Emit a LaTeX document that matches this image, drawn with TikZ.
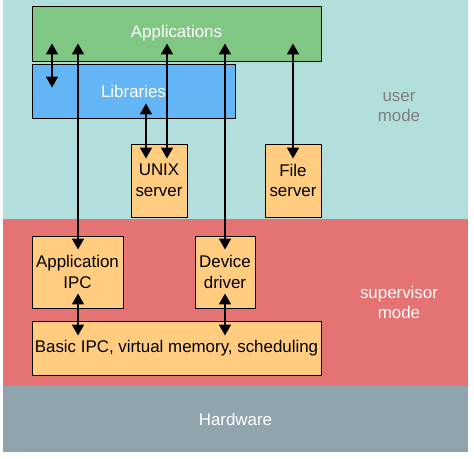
\documentclass[tikz,border=0pt]{standalone}
\usepackage{fontspec}
\setmainfont{Liberation Sans}
\usetikzlibrary{arrows.meta,calc}
\definecolor{userbg}{HTML}{B2DFDB}
\definecolor{supbg}{HTML}{E57373}
\definecolor{hwbg}{HTML}{90A4AE}
\definecolor{appg}{HTML}{81C784}
\definecolor{libb}{HTML}{64B5F6}
\definecolor{boxo}{HTML}{FFCC80}
\definecolor{usertxt}{HTML}{7F7F7F}
\begin{document}
\begin{tikzpicture}[x=1pt,y=-1pt,
  font=\fontsize{16.9}{20.5}\selectfont,
  box/.style={draw=black,line width=0.9pt,inner sep=0pt,align=center},
  obox/.style={box,fill=boxo,text=black},
  arr/.style={{Triangle[length=11pt,width=12pt]}-{Triangle[length=11pt,width=12pt]},line width=1.8pt}]
\useasboundingbox (0,0) rectangle (474,458);
% bands
\fill[userbg] (3,0) rectangle (468,219);
\fill[supbg] (3,219) rectangle (468,386);
\fill[hwbg] (3,386) rectangle (468,452);
\node[text=usertxt,align=center] (umode) at (399,107) {user\\mode};
\node[text=white,align=center] (smode) at (399,302.5) {supervisor\\mode};
\node[text=white] (hw) at (235.5,419) {Hardware};
% boxes
\node[box,fill=appg,text=white,minimum width=289pt,minimum height=55pt] (apps) at (176.5,33.5) {Applications};
\node[box,fill=libb,text=white,minimum width=203pt,minimum height=54pt] (libs) at (133.5,91) {Libraries};
\node[obox,minimum width=56pt,minimum height=73pt] (unix) at (159,180.5) {UNIX\\server};
\node[obox,minimum width=56pt,minimum height=73pt] (file) at (293,180.5) {File\\server};
\node[obox,minimum width=91pt,minimum height=72pt] (aipc) at (77.5,272) {Application\\IPC};
\node[obox,minimum width=60pt,minimum height=72pt] (dev) at (225,272) {Device\\driver};
\node[obox,minimum width=289pt,minimum height=54pt] (basic) at (176.5,348) {Basic IPC, virtual memory, scheduling};
% arrows
\draw[arr] ($(apps.south -| 52,0)+(0,-18)$) -- ($(libs.north -| 52,0)+(0,24)$);
\draw[arr] ($(apps.south -| 78,0)+(0,-18)$) -- ($(aipc.north -| 78,0)+(0,14)$);
\draw[arr] ($(apps.south -| 167,0)+(0,-18)$) -- ($(unix.north -| 167,0)+(0,15)$);
\draw[arr] ($(libs.south -| 146,0)+(0,-15)$) -- ($(unix.north -| 146,0)+(0,15)$);
\draw[arr] ($(apps.south -| 225,0)+(0,-18)$) -- ($(dev.north)+(0,14)$);
\draw[arr] ($(apps.south -| 293,0)+(0,-18)$) -- ($(file.north)+(0,15)$);
\draw[arr] ($(aipc.south -| 78,0)+(0,-15)$) -- ($(basic.north -| 78,0)+(0,15)$);
\draw[arr] ($(dev.south)+(0,-15)$) -- ($(basic.north -| 225,0)+(0,15)$);
\end{tikzpicture}
\end{document}
